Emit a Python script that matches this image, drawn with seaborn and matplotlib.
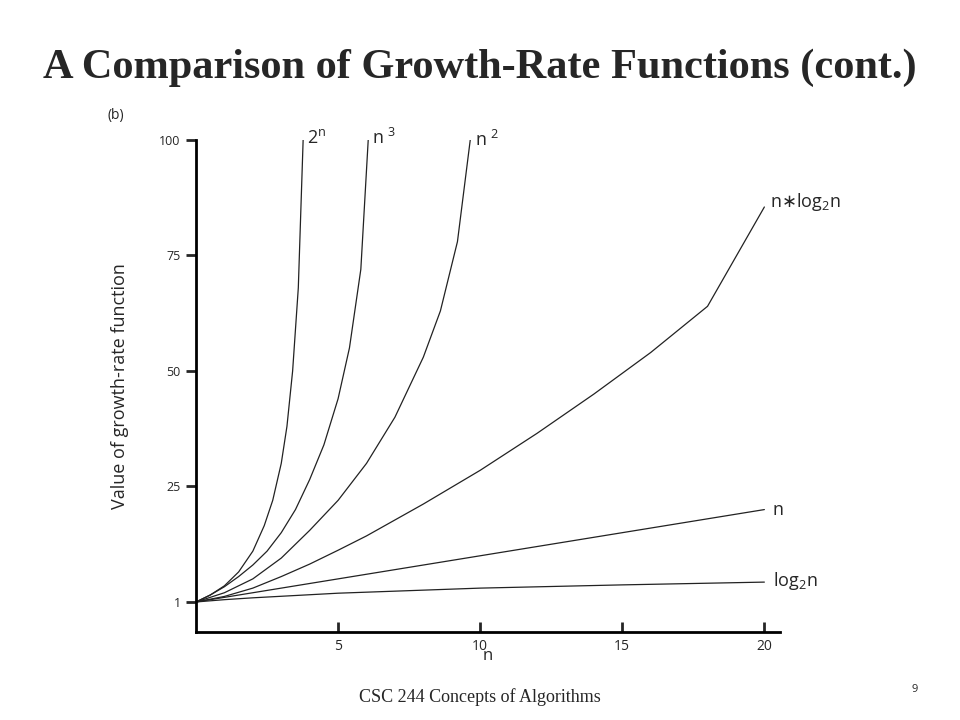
import matplotlib
matplotlib.use("Agg")
import matplotlib.pyplot as plt
import seaborn as sns
import pandas as pd

# values (curves as drawn in the figure)
exp_n = [0, 0.5, 1, 1.5, 2, 2.4, 2.7, 3.0, 3.2, 3.4, 3.6, 3.77]
exp_v = [0, 1.5, 3.5, 6.5, 11, 16.5, 22, 30, 38, 50, 68, 100]
cube_n = [0, 0.5, 1, 1.5, 2, 2.5, 3, 3.5, 4, 4.5, 5, 5.4, 5.8, 6.06]
cube_v = [0, 1.5, 3.3, 5.5, 8, 11, 15, 20, 26.5, 34, 44, 55, 72, 100]
sq_n = [0, 1, 2, 3, 4, 5, 6, 7, 8, 8.6, 9.2, 9.65]
sq_v = [0, 2, 5, 9.5, 15.5, 22, 30, 40, 53, 63, 78, 100]
nlog_n = [0, 1, 2, 3, 4, 5, 6, 8, 10, 12, 14, 16, 18, 20]
nlog_v = [0, 1.2, 3, 5.5, 8.2, 11.2, 14.3, 21.2, 28.5, 36.5, 45, 54, 64, 85.5]
lin_n = [0, 20]
lin_v = [0, 20]
log_n = [0, 1, 2, 5, 10, 15, 20]
log_v = [0, 0.5, 0.9, 1.9, 3.0, 3.7, 4.3]

yticks = [0, 25, 50, 75, 100]
ylabels = ["1", "25", "50", "75", "100"]
xticks = [5, 10, 15, 20]

sns.set_style("white")
fig = plt.figure(figsize=(9.6, 7.2), dpi=100)
ax = fig.add_axes([196 / 960, 88 / 720, 584 / 960, 492 / 720])

for xs, ys in [(exp_n, exp_v), (cube_n, cube_v), (sq_n, sq_v),
               (nlog_n, nlog_v), (lin_n, lin_v), (log_n, log_v)]:
    df = pd.DataFrame({"n": xs, "v": ys})
    sns.lineplot(data=df, x="n", y="v", ax=ax, color="#222222", lw=0.9)

ax.set_xlim(0, 20.55)
ax.set_ylim(-6.5, 100)
for s in ["top", "right"]:
    ax.spines[s].set_visible(False)
for s in ["left", "bottom"]:
    ax.spines[s].set_linewidth(2)
    ax.spines[s].set_color("black")
ax.set_yticks(yticks, ylabels, fontsize=9, family="Open Sans")
ax.set_xticks(xticks, [str(t) for t in xticks], fontsize=10, family="Open Sans")
ax.tick_params(axis="y", left=True, direction="out", length=7, width=2, pad=4)
ax.tick_params(axis="x", bottom=True, direction="in", length=7, width=2, pad=5)
ax.set_xlabel("n", fontsize=12, family="Open Sans", labelpad=-4)
ax.set_ylabel("Value of growth-rate function", fontsize=13, family="Open Sans", labelpad=22)

kw = dict(fontsize=13, family="Open Sans", va="center")
ax.text(3.9, 100.5, "2$^{\\mathregular{n}}$", **kw)
ax.text(6.2, 100.5, "n $^{\\mathregular{3}}$", **kw)
ax.text(9.8, 100, "n $^{\\mathregular{2}}$", **kw)
ax.text(20.2, 86.5, "n$\\ast$log$_{\\mathregular{2}}$n", **kw)
ax.text(20.3, 20, "n", **kw)
ax.text(20.3, 4.5, "log$_{\\mathregular{2}}$n", **kw)

fig.text(108 / 960, 1 - 115 / 720, "(b)", fontsize=10, family="Open Sans", va="center")
fig.text(0.5, 1 - 68 / 720, "A Comparison of Growth-Rate Functions (cont.)",
         fontsize=30.5, fontweight="bold", family="Liberation Serif", ha="center", va="center")
fig.text(0.5, 1 - 697 / 720, "CSC 244 Concepts of Algorithms",
         fontsize=13, family="Liberation Serif", ha="center", va="center")
fig.text(915 / 960, 1 - 690 / 720, "9", fontsize=8, family="Open Sans", ha="center", va="center")

fig.savefig("out.png", dpi=100)
